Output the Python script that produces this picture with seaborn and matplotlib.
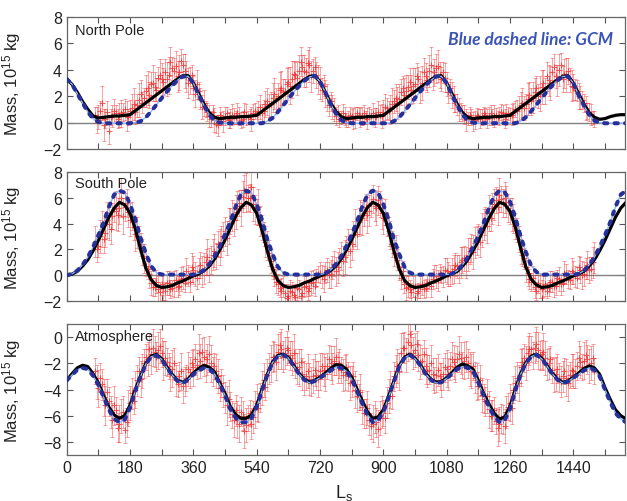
import numpy as np
import pandas as pd
import matplotlib
matplotlib.use("Agg")
import matplotlib.pyplot as plt
import seaborn as sns

# ---------------- data ----------------
line_ls = np.arange(0, 1591, 15)          # Ls grid of the model curves
red_ls = np.arange(80, 1501, 10)          # Ls of observations (set A)
red_ls2 = np.arange(85, 1496, 10)         # Ls of observations (set B)

north_fit = [3.3, 2.9, 2.3, 1.6, 1.0, 0.5, 0.35, 0.4, 0.45, 0.5, 0.5, 0.55,
             0.6, 0.9, 1.2, 1.5, 1.8, 2.1, 2.4, 2.7, 3.0, 3.3, 3.55, 3.55,
             3.0, 2.2, 1.4, 0.75, 0.4, 0.3, 0.35, 0.4, 0.4, 0.45, 0.45, 0.5,
             0.55, 0.85, 1.15, 1.45, 1.75, 2.05, 2.35, 2.65, 2.95, 3.25, 3.5, 3.55,
             3.1, 2.3, 1.5, 0.85, 0.45, 0.3, 0.35, 0.4, 0.4, 0.45, 0.45, 0.5,
             0.55, 0.85, 1.15, 1.45, 1.75, 2.05, 2.35, 2.65, 2.95, 3.25, 3.5, 3.55,
             3.0, 2.2, 1.4, 0.75, 0.4, 0.3, 0.35, 0.4, 0.4, 0.45, 0.45, 0.5,
             0.55, 0.85, 1.15, 1.45, 1.75, 2.05, 2.35, 2.65, 2.95, 3.25, 3.5, 3.55,
             3.0, 2.2, 1.4, 0.75, 0.4, 0.25, 0.3, 0.45, 0.55, 0.6, 0.6]
north_gcm = [3.3, 2.9, 2.2, 1.5, 0.8, 0.3, 0.05, -0.05, -0.05, -0.05, -0.05, -0.05,
             -0.05, 0.0, 0.1, 0.4, 0.85, 1.35, 1.85, 2.35, 2.8, 3.2, 3.5, 3.5,
             3.0, 2.1, 1.3, 0.6, 0.15, 0.0, -0.05, -0.05, -0.05, -0.05, -0.05, -0.05,
             -0.05, -0.05, 0.1, 0.35, 0.8, 1.3, 1.8, 2.3, 2.75, 3.15, 3.45, 3.55,
             3.1, 2.3, 1.4, 0.7, 0.2, 0.0, -0.05, -0.05, -0.05, -0.05, -0.05, -0.05,
             -0.05, -0.05, 0.1, 0.4, 0.85, 1.35, 1.85, 2.35, 2.8, 3.2, 3.5, 3.5,
             3.0, 2.1, 1.3, 0.6, 0.15, 0.0, -0.05, -0.05, -0.05, -0.05, -0.05, -0.05,
             -0.05, -0.05, 0.1, 0.4, 0.85, 1.35, 1.85, 2.35, 2.8, 3.2, 3.5, 3.5,
             3.0, 2.1, 1.3, 0.6, 0.15, 0.0, -0.05, -0.05, -0.05, -0.05, -0.05]

south_fit = [0.0, 0.08, 0.3, 0.7, 1.2, 1.9, 2.7, 3.6, 4.5, 5.2, 5.65, 5.45,
             4.8, 3.6, 2.0, 0.55, -0.35, -0.8, -0.95, -0.9, -0.8, -0.6, -0.45, -0.25,
             -0.05, 0.1, 0.35, 0.7, 1.25, 1.95, 2.75, 3.65, 4.55, 5.25, 5.65, 5.45,
             4.8, 3.5, 1.9, 0.5, -0.4, -0.8, -0.95, -0.9, -0.8, -0.6, -0.45, -0.25,
             -0.05, 0.1, 0.35, 0.7, 1.25, 1.95, 2.75, 3.65, 4.55, 5.25, 5.65, 5.45,
             4.8, 3.5, 1.9, 0.5, -0.4, -0.8, -0.95, -0.9, -0.8, -0.6, -0.45, -0.25,
             -0.05, 0.1, 0.3, 0.7, 1.2, 1.9, 2.65, 3.55, 4.4, 5.15, 5.65, 5.5,
             4.95, 3.75, 2.15, 0.65, -0.3, -0.75, -0.95, -0.9, -0.8, -0.6, -0.45, -0.25,
             -0.05, 0.1, 0.3, 0.7, 1.2, 1.9, 2.7, 3.6, 4.5, 5.2, 5.65]
south_gcm = [0.0, 0.1, 0.35, 0.8, 1.4, 2.2, 3.1, 4.1, 5.3, 6.25, 6.55, 6.4,
             5.5, 4.35, 2.9, 1.7, 0.7, 0.2, 0.05, 0.05, 0.05, 0.05, 0.05, 0.05,
             0.05, 0.15, 0.4, 0.85, 1.45, 2.25, 3.15, 4.15, 5.3, 6.25, 6.55, 6.4,
             5.5, 4.3, 2.8, 1.65, 0.65, 0.2, 0.05, 0.05, 0.05, 0.05, 0.05, 0.05,
             0.05, 0.15, 0.4, 0.85, 1.45, 2.25, 3.15, 4.15, 5.3, 6.25, 6.55, 6.4,
             5.5, 4.3, 2.8, 1.65, 0.65, 0.2, 0.05, 0.05, 0.05, 0.05, 0.05, 0.05,
             0.05, 0.1, 0.35, 0.8, 1.4, 2.2, 3.05, 4.05, 5.2, 6.15, 6.55, 6.45,
             5.7, 4.5, 3.05, 1.8, 0.75, 0.25, 0.05, 0.05, 0.05, 0.05, 0.05, 0.05,
             0.05, 0.1, 0.35, 0.8, 1.4, 2.2, 3.1, 4.1, 5.3, 6.25, 6.55]

atm_fit = [-3.3, -2.8, -2.35, -2.15, -2.25, -2.8, -3.5, -4.45, -5.35, -5.95, -6.2, -6.0,
           -5.2, -4.0, -2.95, -2.0, -1.45, -1.32, -1.65, -2.3, -2.85, -3.3, -3.45, -3.2,
           -2.75, -2.4, -2.15, -2.3, -2.65, -3.5, -4.3, -5.3, -5.9, -6.2, -6.2, -5.95,
           -5.2, -4.0, -2.85, -1.9, -1.4, -1.3, -1.55, -2.15, -2.75, -3.2, -3.45, -3.3,
           -3.05, -2.75, -2.4, -2.1, -2.15, -2.45, -3.05, -3.95, -4.85, -5.7, -6.2, -6.1,
           -5.55, -4.5, -3.35, -2.2, -1.55, -1.3, -1.6, -2.1, -2.75, -3.2, -3.45, -3.4,
           -3.1, -2.7, -2.3, -2.05, -2.2, -2.45, -3.3, -4.3, -5.1, -5.8, -6.25, -6.1,
           -5.3, -4.0, -2.8, -1.95, -1.45, -1.3, -1.6, -2.15, -2.75, -3.2, -3.45, -3.35,
           -3.05, -2.75, -2.4, -2.2, -2.35, -2.85, -3.85, -4.75, -5.55, -6.0, -6.25]
atm_gcm = [-3.3, -2.9, -2.5, -2.35, -2.45, -2.95, -3.65, -4.6, -5.55, -6.25, -6.5, -6.3,
           -5.4, -4.1, -3.0, -2.05, -1.5, -1.4, -1.7, -2.35, -2.9, -3.35, -3.5, -3.25,
           -2.85, -2.55, -2.35, -2.45, -2.8, -3.6, -4.45, -5.5, -6.15, -6.5, -6.5, -6.2,
           -5.35, -4.1, -2.9, -1.95, -1.45, -1.35, -1.6, -2.2, -2.8, -3.25, -3.5, -3.35,
           -3.1, -2.85, -2.55, -2.3, -2.35, -2.6, -3.2, -4.1, -5.05, -5.95, -6.5, -6.35,
           -5.75, -4.6, -3.4, -2.25, -1.6, -1.35, -1.65, -2.15, -2.8, -3.25, -3.5, -3.45,
           -3.15, -2.8, -2.45, -2.25, -2.35, -2.6, -3.45, -4.45, -5.3, -6.05, -6.5, -6.35,
           -5.5, -4.1, -2.85, -2.0, -1.5, -1.35, -1.65, -2.2, -2.8, -3.25, -3.5, -3.4,
           -3.1, -2.85, -2.55, -2.35, -2.5, -3.0, -4.0, -4.95, -5.8, -6.25, -6.5]

north_obs = [0.6, 0.4, 1.5, 0.3, -0.6, 0.5, 0.7, 0.6, 0.8, 0.5,
             0.9, 1.4, 1.3, 2.2, 1.9, 2.6, 2.9, 2.7, 3.4, 3.3,
             3.8, 3.6, 4.1, 4.3, 3.8, 4.4, 3.5, 3.2, 2.6, 2.9,
             1.8, 1.5, 0.8, 0.3, 0.2, -0.2, 0.3, 0.5, 0.2, 0.6,
             0.4, 0.5, 0.3, 0.6, 0.5, 0.7, 0.6, 1.2, 0.9, 1.6,
             1.4, 2.2, 2.0, 2.6, 2.4, 3.1, 3.3, 3.6, 3.9, 4.2,
             3.8, 4.4, 3.9, 3.6, 3.0, 2.8, 1.9, 1.6, 1.0, 0.7,
             0.4, 0.5, 0.3, 0.5, 0.4, 0.6, 0.5, 0.4, 0.6, 0.7,
             0.5, 0.6, 0.8, 1.1, 1.0, 1.6, 1.5, 2.3, 2.1, 2.7,
             2.5, 2.9, 3.3, 3.0, 3.5, 3.9, 3.4, 4.1, 3.6, 3.8,
             2.9, 2.6, 1.8, 1.4, 0.9, 0.6, 0.3, 0.4, 0.2, 0.5,
             0.4, 0.6, 0.5, 0.4, 0.6, 0.5, 0.7, 0.6, 0.5, 0.8,
             0.9, 1.3, 1.1, 1.8, 1.6, 2.3, 2.0, 2.7, 2.4, 3.2,
             3.8, 3.5, 4.0, 3.3, 3.6, 3.2, 2.7, 2.4, 1.9, 1.5,
             0.9, 0.6, 0.3]
north_obs2 = [0.2, 0.9, -0.2, 0.8, 0.4, 0.9, 0.3, 0.7, 1.0, 0.4,
              1.1, 0.8, 1.7, 1.5, 2.4, 2.1, 3.0, 2.5, 3.6, 3.1,
              3.3, 4.6, 3.9, 3.5, 4.7, 3.9, 3.0, 3.6, 2.2, 2.4,
              1.2, 1.0, 0.5, 0.8, -0.1, 0.6, 0.1, 0.7, 0.3, 0.5,
              0.7, 0.2, 0.8, 0.4, 0.3, 0.9, 0.8, 0.7, 1.4, 1.3,
              1.9, 1.7, 2.5, 2.3, 2.9, 2.8, 3.7, 3.4, 4.6, 3.9,
              4.5, 3.5, 4.2, 3.3, 2.5, 2.2, 1.3, 1.2, 0.5, 0.3,
              0.7, 0.2, 0.6, 0.3, 0.7, 0.4, 0.7, 0.3, 0.5, 0.4,
              0.8, 0.5, 1.2, 0.9, 1.4, 1.9, 1.8, 2.6, 2.4, 3.1,
              2.8, 3.5, 2.7, 3.8, 3.2, 4.4, 3.8, 4.3, 3.3, 3.4,
              2.3, 2.1, 1.5, 1.0, 0.7, 0.2, 0.6, 0.1, 0.6, 0.3,
              0.7, 0.3, 0.7, 0.5, 0.4, 0.8, 0.3, 0.7, 0.6, 1.0,
              1.1, 1.5, 1.4, 2.1, 1.9, 2.6, 2.2, 3.0, 3.5, 3.0,
              4.2, 3.2, 4.4, 3.7, 3.9, 2.8, 2.5, 2.0, 1.7, 1.1,
              0.8, 0.4]
south_obs = [2.6, 2.3, 3.6, 3.3, 4.0, 4.6, 5.0, 5.2, 4.6, 5.6,
             4.3, 3.7, 3.3, 2.4, 1.3, 0.5, -0.6, -0.9, -1.1, -0.7,
             -1.2, -0.6, -1.0, -0.4, -0.8, -0.2, 0.3, -0.5, 0.4, -0.2,
             0.8, 0.5, 1.4, 1.2, 1.9, 2.4, 2.6, 3.4, 3.8, 4.6,
             4.9, 5.6, 6.1, 6.4, 6.0, 5.5, 4.9, 4.2, 3.2, 2.3,
             1.1, -0.1, -0.7, -1.2, -1.4, -1.6, -1.3, -1.7, -1.1, -1.4,
             -0.8, -1.0, -0.5, -0.2, 0.2, -0.3, 0.4, 0.1, 0.9, 0.6,
             1.5, 1.4, 2.6, 2.4, 3.7, 4.1, 4.4, 5.3, 5.0, 5.9,
             5.2, 5.5, 4.4, 3.9, 3.1, 1.7, 1.2, -0.2, -0.7, -0.9,
             -1.3, -0.8, -1.2, -0.7, -1.0, -0.5, -0.3, -0.1, 0.2, -0.1,
             0.3, 0.0, 0.5, 0.7, 1.0, 1.3, 1.6, 2.1, 2.5, 3.0,
             3.5, 4.2, 4.8, 5.2, 5.8, 6.2, 5.6, 5.7, 5.0, 4.4,
             3.5, 2.0, 1.3, 0.2, -0.5, -0.9, -0.6, -1.1, -0.7, -1.0,
             -0.5, -0.8, -0.3, -0.6, 0.1, -0.4, 0.2, -0.2, 0.4, 0.1,
             0.8, 0.5, 1.4]
south_obs2 = [2.0, 3.0, 2.8, 4.3, 3.6, 5.1, 4.7, 6.0, 5.3, 4.9,
              4.6, 3.2, 2.9, 1.8, 0.7, 0.1, -0.9, -0.5, -1.3, -0.9,
              -0.6, -1.1, -0.7, -0.9, -0.3, -0.6, 0.0, 0.6, 0.1, 0.3,
              0.3, 1.0, 0.8, 1.6, 1.5, 2.2, 3.0, 2.9, 4.2, 4.3,
              5.4, 5.2, 6.6, 6.0, 6.8, 5.1, 5.3, 3.7, 2.6, 1.7,
              0.5, -0.5, -1.0, -0.9, -1.8, -1.2, -1.5, -1.0, -1.6, -0.9,
              -1.2, -0.6, -0.8, 0.1, -0.1, 0.2, 0.0, 0.6, 0.3, 1.1,
              1.1, 2.0, 1.9, 3.1, 3.2, 4.5, 4.8, 4.7, 5.6, 5.4,
              5.8, 4.8, 4.9, 3.4, 2.4, 2.2, 0.6, 0.3, -1.0, -1.1,
              -0.9, -1.4, -0.9, -1.1, -0.6, -0.8, 0.1, -0.4, 0.0, 0.4,
              0.1, 0.3, 0.8, 0.5, 1.2, 1.0, 1.9, 1.8, 2.7, 2.6,
              3.9, 3.8, 4.4, 5.5, 5.3, 5.9, 6.0, 5.2, 4.7, 3.8,
              2.8, 1.6, 0.6, -0.3, -0.2, -1.2, -0.8, -0.9, -1.2, -0.5,
              -0.8, -0.2, -0.7, 0.2, -0.3, 0.3, -0.1, 0.6, 0.0, 0.5,
              0.4, 1.0]
atm_obs = [-2.6, -3.9, -3.6, -5.2, -4.9, -6.3, -5.6, -6.6, -5.7, -6.5,
           -5.0, -4.9, -3.3, -3.2, -2.0, -1.7, -1.3, -1.1, -1.0, -1.2,
           -1.6, -2.2, -2.4, -3.3, -3.0, -3.7, -3.1, -2.7, -2.3, -2.1,
           -1.8, -1.5, -1.7, -2.0, -2.2, -3.0, -3.5, -4.6, -4.7, -5.9,
           -5.6, -6.6, -6.0, -6.7, -5.8, -6.1, -5.0, -4.6, -3.3, -2.9,
           -2.0, -1.5, -1.1, -0.9, -1.2, -1.0, -1.6, -2.0, -2.3, -2.8,
           -3.0, -3.2, -3.0, -2.9, -2.6, -2.5, -2.2, -2.0, -1.8, -2.3,
           -2.5, -2.7, -3.0, -3.4, -4.0, -4.6, -5.3, -5.8, -6.3, -6.6,
           -6.5, -6.2, -5.8, -5.0, -4.0, -3.0, -2.2, -1.2, -0.8, -0.4,
           -0.6, -1.0, -1.4, -1.8, -2.2, -2.5, -2.8, -2.9, -3.0, -2.8,
           -2.4, -2.2, -1.9, -1.7, -1.6, -1.8, -2.0, -2.6, -3.1, -3.7,
           -4.4, -4.9, -5.5, -6.0, -6.4, -6.6, -6.3, -5.7, -5.0, -4.0,
           -3.1, -2.3, -1.6, -1.2, -0.9, -0.8, -1.0, -1.3, -1.6, -2.0,
           -2.5, -2.8, -3.1, -3.0, -3.1, -2.9, -2.6, -2.2, -1.9, -1.8,
           -1.7, -2.0, -2.6]
atm_obs2 = [-3.4, -3.1, -4.6, -4.2, -5.7, -5.2, -6.9, -6.0, -7.1, -5.4,
            -4.3, -4.0, -2.6, -2.6, -1.5, -0.9, -0.8, -1.5, -0.7, -1.8,
            -1.9, -2.8, -2.0, -3.6, -2.6, -3.4, -2.4, -2.0, -1.7, -1.2,
            -1.1, -2.2, -1.3, -2.6, -2.6, -3.9, -4.1, -5.2, -5.3, -6.3,
            -6.3, -5.7, -7.2, -6.2, -6.6, -5.5, -5.4, -3.9, -3.8, -2.4,
            -1.5, -1.9, -0.6, -1.5, -0.8, -1.4, -1.2, -2.4, -1.9, -3.1,
            -2.6, -3.4, -2.5, -3.2, -2.2, -2.8, -1.7, -2.4, -1.5, -2.0,
            -2.9, -2.3, -3.5, -3.0, -4.5, -4.2, -5.8, -5.4, -6.8, -6.1,
            -7.0, -5.7, -6.2, -4.5, -4.5, -2.6, -2.6, -0.8, -1.4, 0.2,
            -1.2, -0.5, -1.9, -1.3, -2.6, -2.0, -3.3, -2.5, -3.3, -2.3,
            -2.8, -1.7, -2.3, -1.3, -2.1, -1.5, -2.4, -2.2, -3.4, -3.3,
            -4.7, -4.5, -6.0, -5.6, -6.9, -6.2, -6.8, -5.3, -5.4, -3.5,
            -3.5, -1.9, -2.0, -0.9, -1.4, -0.5, -1.4, -1.1, -2.1, -1.7,
            -2.9, -2.4, -3.4, -2.6, -3.5, -2.5, -2.8, -1.6, -2.3, -1.4,
            -2.2, -1.6]

north_err = [0.6, 0.9, 1.3, 0.7, 1.0, 0.8, 0.6, 0.9, 0.7, 1.1,
             0.8, 1.2, 0.9, 1.0, 0.7, 1.3, 0.9, 1.1, 0.8, 1.2,
             1.0, 1.4, 0.9, 1.1, 1.3, 0.8, 1.2, 1.0, 0.9, 1.1,
             0.8, 1.0, 0.7, 0.6, 0.9, 0.8, 0.5, 0.7, 0.6, 0.8,
             0.5, 0.7, 0.6, 0.8, 0.5, 0.7, 0.6, 0.9, 0.8, 1.0,
             0.9, 1.2, 1.0, 1.3, 0.9, 1.1, 1.4, 1.0, 1.2, 0.9,
             1.1, 1.3, 0.9, 1.0, 1.2, 0.8, 1.0, 0.7, 0.9, 0.6,
             0.5, 0.7, 0.6, 0.5, 0.8, 0.6, 0.7, 0.5, 0.6, 0.8,
             0.6, 0.7, 0.9, 0.8, 1.1, 0.9, 1.2, 1.0, 1.3, 0.9,
             1.1, 1.2, 0.9, 1.3, 1.0, 1.2, 0.9, 1.1, 1.0, 0.8,
             0.9, 0.7, 1.0, 0.8, 0.6, 0.7, 0.5, 0.6, 0.7, 0.5,
             0.6, 0.5, 0.7, 0.6, 0.5, 0.7, 0.6, 0.8, 0.6, 0.7,
             0.8, 1.0, 0.9, 1.2, 1.0, 1.1, 0.9, 1.3, 1.0, 1.2,
             1.1, 0.9, 1.2, 1.0, 1.3, 0.9, 1.0, 0.8, 0.9, 0.7,
             0.6, 0.8, 0.6]
north_err2 = [1.0, 0.7, 1.2, 0.8, 0.6, 0.9, 0.7, 1.0, 0.8, 0.6,
              1.1, 0.9, 1.3, 0.8, 1.2, 1.0, 1.4, 0.9, 1.2, 1.0,
              1.3, 1.1, 1.0, 1.2, 0.9, 1.3, 1.1, 0.8, 1.0, 0.7,
              0.9, 0.6, 0.8, 0.5, 0.7, 0.6, 0.8, 0.5, 0.7, 0.6,
              0.8, 0.6, 0.7, 0.5, 0.9, 0.6, 0.8, 0.7, 1.0, 0.9,
              1.1, 0.9, 1.3, 1.0, 1.2, 1.4, 1.0, 1.3, 1.1, 1.2,
              1.0, 1.2, 0.8, 1.1, 0.9, 1.0, 0.8, 0.9, 0.7, 0.6,
              0.7, 0.5, 0.6, 0.8, 0.5, 0.7, 0.6, 0.8, 0.5, 0.7,
              0.8, 0.9, 1.0, 0.7, 1.2, 1.0, 1.1, 0.9, 1.2, 1.0,
              1.3, 1.0, 1.2, 1.1, 0.9, 1.3, 1.0, 1.2, 0.9, 1.1,
              0.8, 1.0, 0.7, 0.9, 0.6, 0.8, 0.6, 0.7, 0.5, 0.7,
              0.5, 0.7, 0.6, 0.8, 0.5, 0.6, 0.7, 0.5, 0.8, 0.6,
              0.9, 1.1, 0.8, 1.0, 1.2, 0.9, 1.3, 1.0, 1.1, 1.3,
              1.0, 1.2, 0.9, 1.1, 1.0, 1.2, 0.8, 1.0, 0.7, 0.9,
              0.7, 0.5]
south_err = [1.2, 0.9, 1.4, 1.1, 1.3, 1.0, 1.5, 1.2, 1.4, 1.1,
             1.3, 1.0, 1.2, 0.9, 1.1, 0.8, 0.9, 0.7, 1.0, 0.8,
             0.7, 0.9, 0.6, 0.8, 0.7, 0.9, 1.0, 0.8, 1.1, 0.9,
             1.0, 1.2, 1.4, 1.1, 1.3, 1.0, 1.2, 1.1, 1.4, 1.2,
             1.3, 1.0, 1.2, 1.5, 1.1, 1.3, 1.0, 1.2, 0.9, 1.1,
             0.9, 0.7, 0.8, 1.0, 0.7, 0.9, 0.8, 1.0, 0.7, 0.9,
             0.8, 0.6, 0.9, 0.7, 0.8, 1.0, 0.9, 1.1, 1.0, 1.2,
             1.1, 1.3, 1.0, 1.2, 1.4, 1.1, 1.3, 1.0, 1.2, 1.1,
             1.3, 1.0, 1.2, 0.9, 1.1, 1.0, 0.8, 0.9, 0.7, 0.8,
             0.7, 0.9, 0.6, 0.8, 0.7, 0.6, 0.8, 0.9, 0.7, 0.8,
             1.0, 0.8, 1.1, 0.9, 1.2, 1.0, 1.3, 1.1, 1.2, 1.0,
             1.3, 1.1, 1.4, 1.2, 1.0, 1.3, 1.1, 1.2, 1.0, 1.1,
             0.9, 1.1, 0.8, 1.0, 0.7, 0.9, 0.8, 0.7, 0.9, 0.6,
             0.8, 0.7, 0.9, 0.6, 0.8, 0.7, 0.9, 0.8, 1.0, 0.9,
             1.1, 0.9, 1.2]
south_err2 = [1.0, 1.3, 1.1, 1.4, 1.2, 1.0, 1.3, 1.5, 1.1, 1.2,
              1.1, 1.3, 0.9, 1.0, 0.8, 1.1, 0.7, 0.9, 0.8, 1.0,
              0.9, 0.7, 1.0, 0.8, 0.9, 0.7, 0.8, 1.1, 0.9, 1.0,
              1.2, 1.0, 1.3, 1.2, 1.0, 1.4, 1.1, 1.3, 1.0, 1.3,
              1.1, 1.4, 1.2, 1.0, 1.3, 1.1, 1.4, 1.0, 1.2, 1.0,
              0.8, 0.9, 0.7, 0.8, 1.0, 0.8, 0.7, 0.9, 1.0, 0.8,
              0.7, 0.9, 0.8, 0.6, 0.9, 0.8, 1.0, 0.9, 1.1, 1.0,
              1.2, 1.0, 1.3, 1.1, 1.2, 1.3, 1.0, 1.4, 1.1, 1.2,
              1.1, 1.2, 1.0, 1.1, 1.0, 0.9, 1.0, 0.8, 0.9, 0.7,
              0.8, 0.7, 0.9, 0.7, 0.6, 0.9, 0.7, 0.8, 0.6, 0.9,
              0.9, 1.0, 0.9, 1.1, 1.0, 1.2, 1.0, 1.3, 1.1, 1.2,
              1.2, 1.3, 1.0, 1.2, 1.4, 1.0, 1.2, 1.1, 1.3, 1.0,
              1.0, 0.9, 1.1, 0.8, 0.9, 0.7, 1.0, 0.8, 0.6, 0.8,
              0.9, 0.6, 0.8, 0.9, 0.7, 1.0, 0.8, 0.9, 1.1, 0.8,
              1.0, 1.2]
atm_err = [1.0, 1.4, 1.2, 1.5, 1.1, 1.3, 1.0, 1.4, 1.2, 1.1,
           1.3, 1.0, 1.2, 1.4, 1.1, 1.3, 1.5, 1.2, 1.4, 1.1,
           1.3, 1.0, 1.4, 1.2, 1.1, 1.3, 1.0, 1.2, 1.4, 1.1,
           1.3, 1.5, 1.2, 1.4, 1.0, 1.3, 1.1, 1.2, 1.4, 1.0,
           1.2, 1.4, 1.1, 1.3, 1.0, 1.2, 1.4, 1.1, 1.3, 1.2,
           1.4, 1.1, 1.3, 1.5, 1.2, 1.0, 1.3, 1.1, 1.4, 1.2,
           1.0, 1.2, 1.3, 1.1, 1.4, 1.2, 1.0, 1.3, 1.1, 1.2,
           1.0, 1.3, 1.1, 1.2, 1.4, 1.0, 1.3, 1.1, 1.2, 1.4,
           1.1, 1.3, 1.0, 1.2, 1.4, 1.1, 1.3, 1.5, 1.2, 1.4,
           1.1, 1.3, 1.2, 1.0, 1.4, 1.1, 1.2, 1.3, 1.0, 1.2,
           1.4, 1.1, 1.3, 1.0, 1.2, 1.4, 1.1, 1.3, 1.2, 1.0,
           1.3, 1.1, 1.4, 1.2, 1.0, 1.3, 1.1, 1.2, 1.4, 1.0,
           1.2, 1.4, 1.1, 1.3, 1.0, 1.2, 1.4, 1.1, 1.3, 1.2,
           1.0, 1.3, 1.1, 1.2, 1.4, 1.0, 1.3, 1.1, 1.2, 1.4,
           1.1, 1.3, 1.0]
atm_err2 = [1.3, 1.1, 1.4, 1.0, 1.2, 1.5, 1.1, 1.3, 1.0, 1.4,
            1.2, 1.4, 1.1, 1.3, 1.0, 1.2, 1.4, 1.1, 1.3, 1.5,
            1.1, 1.3, 1.2, 1.0, 1.4, 1.1, 1.3, 1.0, 1.2, 1.4,
            1.0, 1.2, 1.4, 1.1, 1.3, 1.0, 1.2, 1.5, 1.1, 1.3,
            1.4, 1.1, 1.3, 1.0, 1.2, 1.4, 1.1, 1.3, 1.0, 1.2,
            1.2, 1.4, 1.0, 1.2, 1.3, 1.1, 1.4, 1.2, 1.0, 1.3,
            1.3, 1.1, 1.2, 1.4, 1.0, 1.3, 1.1, 1.2, 1.4, 1.1,
            1.2, 1.0, 1.3, 1.1, 1.2, 1.4, 1.1, 1.3, 1.0, 1.2,
            1.4, 1.2, 1.1, 1.3, 1.0, 1.2, 1.4, 1.1, 1.3, 1.5,
            1.2, 1.0, 1.3, 1.1, 1.2, 1.4, 1.0, 1.2, 1.3, 1.1,
            1.2, 1.3, 1.1, 1.4, 1.0, 1.2, 1.3, 1.1, 1.4, 1.2,
            1.1, 1.3, 1.2, 1.0, 1.4, 1.1, 1.3, 1.0, 1.2, 1.3,
            1.4, 1.1, 1.3, 1.2, 1.0, 1.3, 1.1, 1.4, 1.2, 1.0,
            1.3, 1.1, 1.2, 1.0, 1.4, 1.2, 1.1, 1.3, 1.0, 1.2,
            1.3, 1.1]

panel_names = ["North Pole", "South Pole", "Atmosphere"]
x_ticks = [0, 180, 360, 540, 720, 900, 1080, 1260, 1440]
y_ticks_poles = [-2, 0, 2, 4, 6, 8]
y_ticks_atm = [0, -2, -4, -6, -8]

# ---------------- style ----------------
sns.set_style("ticks")
plt.rcParams["font.family"] = ["Liberation Sans", "DejaVu Sans"]
plt.rcParams["mathtext.fontset"] = "custom"
plt.rcParams["mathtext.rm"] = "Liberation Sans"
plt.rcParams["mathtext.it"] = "Liberation Sans:italic"

RED = "#ec2a2a"
NAVY = "#25309a"
LIGHTBLUE = "#8ab8ff"

fig = plt.figure(figsize=(6.27, 5.02), dpi=100)
left, width = 0.1064, 0.8904
positions = [[left, 0.7012, width, 0.263],
             [left, 0.3984, width, 0.257],
             [left, 0.0916, width, 0.261]]

series = [(north_obs, north_err, north_obs2, north_err2, north_fit, north_gcm,
           (-2, 8), y_ticks_poles, 0.90),
          (south_obs, south_err, south_obs2, south_err2, south_fit, south_gcm,
           (-2, 8), y_ticks_poles, 0.915),
          (atm_obs, atm_err, atm_obs2, atm_err2, atm_fit, atm_gcm,
           (-9, 1), y_ticks_atm, 0.905)]

axes = []
for i, (pos, (obs, err, obs2, err2, fit, gcm, ylim, yt, ty)) in enumerate(zip(positions, series)):
    ax = fig.add_axes(pos)
    axes.append(ax)
    obs_df = pd.concat([pd.DataFrame({"Ls": red_ls, "mass": obs, "err": err}),
                        pd.DataFrame({"Ls": red_ls2, "mass": obs2, "err": err2})],
                       ignore_index=True)
    lines_df = pd.DataFrame({"Ls": line_ls, "fit": fit, "gcm": gcm})

    if i < 2:
        ax.axhline(0, color="#808080", lw=1.0, zorder=1)

    ax.errorbar(obs_df["Ls"], obs_df["mass"], yerr=obs_df["err"], fmt="none",
                ecolor=RED, elinewidth=0.6, capsize=1.3, capthick=0.6,
                alpha=0.5, zorder=2)
    sns.scatterplot(data=obs_df, x="Ls", y="mass", ax=ax, marker="+", s=14,
                    color=RED, linewidth=0.8, alpha=0.75, zorder=2, legend=False)
    sns.lineplot(data=lines_df, x="Ls", y="fit", ax=ax, color="black", lw=2.3,
                 zorder=3, estimator=None)
    sns.lineplot(data=lines_df, x="Ls", y="gcm", ax=ax, color=LIGHTBLUE, lw=1.0,
                 zorder=4, estimator=None)
    sns.lineplot(data=lines_df, x="Ls", y="gcm", ax=ax, color=NAVY, lw=2.9,
                 zorder=5, estimator=None, linestyle=(0, (0.8, 1.8)),
                 dash_capstyle="round")

    ax.set_xlim(0, 1587)
    ax.set_ylim(*ylim)
    ax.set_yticks(yt)
    ax.set_xticks(x_ticks)
    ax.set_xticks(np.arange(90, 1587, 180), minor=True)
    ax.tick_params(which="both", direction="in", top=True, right=True,
                   length=4, width=0.8, color="#555555",
                   labelsize=11.5, labelcolor="#222222")
    for s in ax.spines.values():
        s.set_color("#666666")
        s.set_linewidth(0.9)
    if i < 2:
        ax.tick_params(labelbottom=False)
        ax.set_xlabel("")
    ax.set_ylabel("Mass, 10$^{15}$ kg", fontsize=12, color="#222222")
    ax.yaxis.set_label_coords(-0.078, 0.5)
    ax.text(0.015, ty, panel_names[i], transform=ax.transAxes, fontsize=10.5,
            color="#222222", va="center", ha="left")

axes[2].set_xlabel("L$_\\mathrm{s}$", fontsize=13, color="#222222")
axes[2].xaxis.set_label_coords(0.497, -0.205)

fig.text(0.978, 0.920, "Blue dashed line: GCM", ha="right", va="center",
         fontsize=12.5, fontweight="bold", fontstyle="italic", color="#3a55b5",
         family=["Lato", "Open Sans", "DejaVu Sans"])

fig.savefig("out.png", dpi=100)
